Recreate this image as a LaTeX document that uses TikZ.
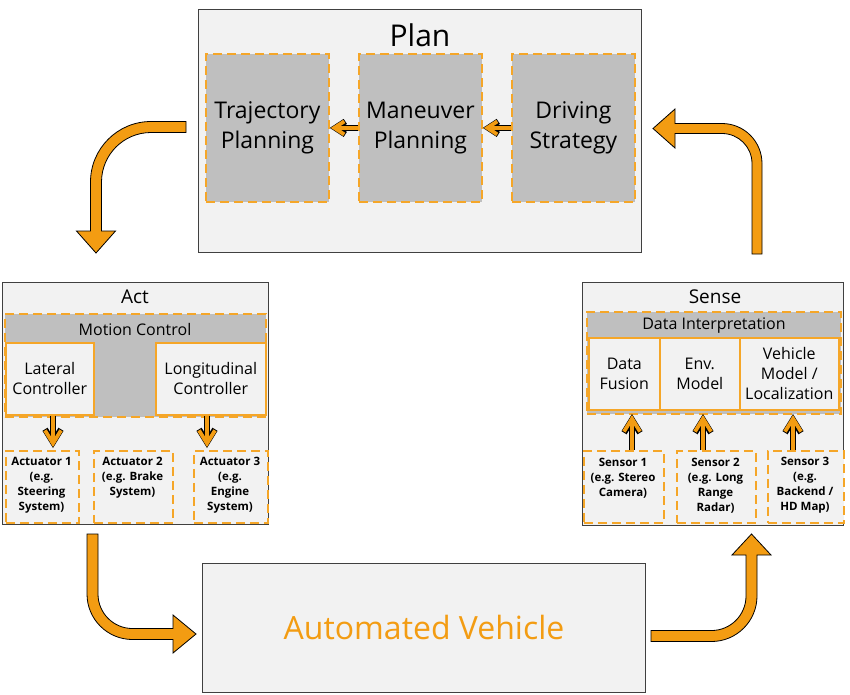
\documentclass[tikz,border=0pt]{standalone}
\usepackage{fontspec}
\setmainfont{Open Sans}
\usetikzlibrary{arrows.meta}
\definecolor{org}{RGB}{243,156,18}
\definecolor{dorg}{RGB}{245,166,40}
\definecolor{bgf}{RGB}{242,242,242}
\definecolor{grf}{RGB}{191,191,191}
\definecolor{edg}{RGB}{64,64,64}
\newcommand\myfs[2]{\fontsize{#1}{#2}\selectfont}
\tikzset{
 outerbox/.style={draw=edg, line width=1.2pt, fill=bgf, anchor=north west, inner sep=0pt},
 dashbox/.style={draw=dorg, line width=1.8pt, dash pattern=on 9pt off 5pt, anchor=north west, inner sep=0pt},
 graybox/.style={dashbox, fill=grf},
 lightdash/.style={dashbox, fill=bgf},
 solidbox/.style={draw=dorg, line width=1.6pt, fill=bgf, anchor=north west, inner sep=0pt},
 planfont/.style={font=\myfs{23}{30}, align=center, text=black},
 midfont/.style={font=\myfs{16}{20}, align=center},
 titlefont/.style={font=\myfs{19}{22}},
 smallbold/.style={font=\bfseries\myfs{11.5}{15}, align=center},
 bigarrow/.style={fill=org, draw=black, line width=0.8pt, line join=miter},
 smout/.style={draw=black, line width=6pt, -{Straight Barb[length=#1, width=#1+3pt]}},
 smin/.style={draw=org, line width=3.8pt, shorten >=1pt, -{Straight Barb[length=#1, width=#1+3pt]}},
}
\begin{document}
\begin{tikzpicture}[x=1pt,y=-1pt]
\useasboundingbox (0,0) rectangle (850,694);
\fill[white] (0,0) rectangle (850,694);

% ---------- Plan ----------
\node[outerbox, minimum width=443pt, minimum height=243pt] (plan) at (198,9) {};
\node[font=\myfs{30}{34}] (plantitle) at (420,35) {Plan};
\node[graybox, minimum width=123pt, minimum height=148pt, planfont] (traj) at (205,53) {Trajectory\\Planning};
\node[graybox, minimum width=123pt, minimum height=148pt, planfont] (man) at (358,53) {Maneuver\\Planning};
\node[graybox, minimum width=123pt, minimum height=148pt, planfont] (drv) at (511,53) {Driving\\Strategy};
\draw[smout=10pt] (man.west) -- (traj.east);
\draw[smin=10pt] (man.west) -- (traj.east);
\draw[smout=10pt] (drv.west) -- (man.east);
\draw[smin=10pt] (drv.west) -- (man.east);

% ---------- Act ----------
\node[outerbox, minimum width=266pt, minimum height=242pt] (act) at (2,282) {};
\node[titlefont] (acttitle) at (135,297) {Act};
\node[graybox, minimum width=261pt, minimum height=103pt] (mc) at (4,313) {};
\node[midfont] (mctitle) at (135,329) {Motion Control};
\node[solidbox, minimum width=88pt, minimum height=72pt, midfont] (lat) at (5,342) {Lateral\\Controller};
\node[solidbox, minimum width=110pt, minimum height=72pt, midfont] (lon) at (155,342) {Longitudinal\\Controller};
\node[lightdash, minimum width=73pt, minimum height=72pt] (act1) at (5,450) {};
\node[lightdash, minimum width=79pt, minimum height=72pt] (act2) at (93,450) {};
\node[lightdash, minimum width=74pt, minimum height=72pt] (act3) at (193,450) {};
\node[smallbold] (act1t) at (41.5,485.5) {Actuator 1\\(e.g.\\Steering\\System)};
\node[smallbold] (act2t) at (132.5,478) {Actuator 2\\(e.g. Brake\\System)};
\node[smallbold] (act3t) at (230,485.5) {Actuator 3\\(e.g.\\Engine\\System)};
\coordinate (a1in) at (53,448);
\coordinate (a3in) at (207,448);
\draw[smout=13pt] (lat.south -| a1in) -- (a1in);
\draw[smin=13pt] (lat.south -| a1in) -- (a1in);
\draw[smout=13pt] (lon.south -| a3in) -- (a3in);
\draw[smin=13pt] (lon.south -| a3in) -- (a3in);

% ---------- Sense ----------
\node[outerbox, minimum width=261pt, minimum height=243pt] (sense) at (582,282) {};
\node[titlefont] (sensetitle) at (715,297) {Sense};
\node[graybox, minimum width=254pt, minimum height=102pt] (di) at (586,311) {};
\node[midfont] (dititle) at (714,326) {Data Interpretation};
\node[solidbox, minimum width=71pt, minimum height=72pt, midfont] (fus) at (588,337) {Data\\Fusion};
\node[solidbox, minimum width=80pt, minimum height=72pt, midfont] (env) at (659,337) {Env.\\Model};
\node[solidbox, minimum width=99pt, minimum height=72pt, midfont] (veh) at (739,337) {Vehicle\\Model /\\Localization};
\node[lightdash, minimum width=80pt, minimum height=72pt] (s1) at (583,450) {};
\node[lightdash, minimum width=79pt, minimum height=72pt] (s2) at (676,450) {};
\node[lightdash, minimum width=76pt, minimum height=72pt] (s3) at (767,450) {};
\node[smallbold] (s1t) at (623,478) {Sensor 1\\(e.g. Stereo\\Camera)};
\node[smallbold] (s2t) at (715.5,485.5) {Sensor 2\\(e.g. Long\\Range\\Radar)};
\node[smallbold] (s3t) at (805,485.5) {Sensor 3\\(e.g.\\Backend /\\HD Map)};
\coordinate (f1in) at (632,414);
\coordinate (f2in) at (703,414);
\coordinate (f3in) at (793,414);
\draw[smout=13pt] (s1.north -| f1in) -- (f1in);
\draw[smin=13pt] (s1.north -| f1in) -- (f1in);
\draw[smout=13pt] (s2.north -| f2in) -- (f2in);
\draw[smin=13pt] (s2.north -| f2in) -- (f2in);
\draw[smout=13pt] (s3.north -| f3in) -- (f3in);
\draw[smin=13pt] (s3.north -| f3in) -- (f3in);

% ---------- Automated Vehicle ----------
\node[outerbox, minimum width=443pt, minimum height=129pt] (av) at (202,563) {};
\node[font=\myfs{32}{36}, text=org] (avt) at (424,627) {Automated Vehicle};

% ---------- big arrows ----------
% Plan -> Act
\draw[bigarrow] (186,121.5) -- (151,121.5) arc[start angle=270, end angle=180, radius=60.5]
  -- (90.5,231) -- (76.5,231) -- (96,253) -- (115.5,231) -- (101.5,231) -- (101.5,182)
  arc[start angle=180, end angle=270, radius=49.5] -- (186,132.5) -- cycle;
% Sense -> Plan
\draw[bigarrow] (752,254) -- (752,163.5) arc[start angle=0, end angle=-90, radius=30]
  -- (675,133.5) -- (675,148) -- (653,128.5) -- (675,109) -- (675,123.5) -- (722,123.5)
  arc[start angle=-90, end angle=0, radius=40] -- (762,254) -- cycle;
% Act -> Vehicle
\draw[bigarrow] (87,534) -- (87,594) arc[start angle=180, end angle=90, radius=45.5]
  -- (173,639.5) -- (173,653) -- (196,634) -- (173,615) -- (173,628.5) -- (132.5,628.5)
  arc[start angle=90, end angle=180, radius=34.5] -- (98,534) -- cycle;
% Vehicle -> Sense
\draw[bigarrow] (651,630.5) -- (711.5,630.5) arc[start angle=90, end angle=0, radius=34.5]
  -- (746,555) -- (732,555) -- (751.5,534) -- (771,555) -- (757,555) -- (757,596)
  arc[start angle=0, end angle=90, radius=45.5] -- (651,641.5) -- cycle;
\end{tikzpicture}
\end{document}
